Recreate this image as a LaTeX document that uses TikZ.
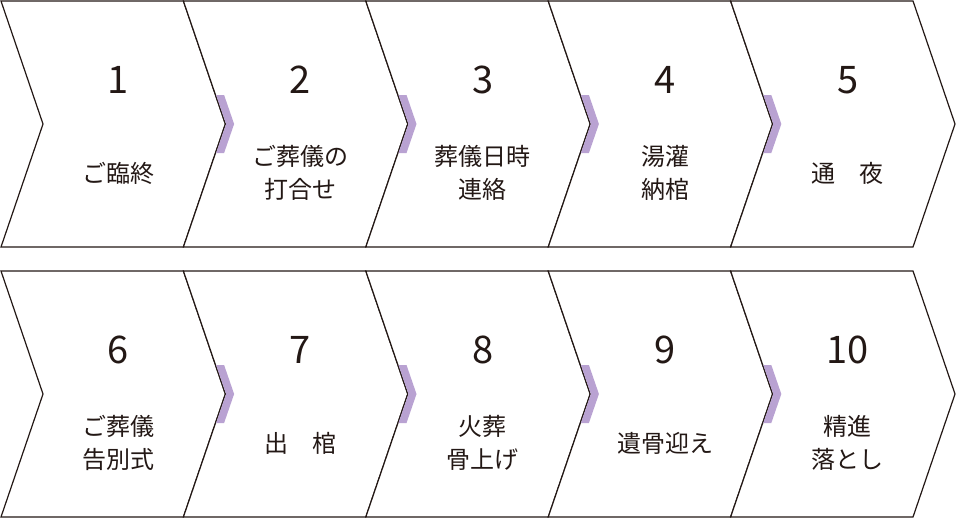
\documentclass[tikz,border=0pt]{standalone}
\usepackage{fontspec}
\setmainfont{Noto Sans CJK JP}
\definecolor{accent}{HTML}{B9A2D2}
\definecolor{ink}{HTML}{231815}
\begin{document}
\begin{tikzpicture}[x=1pt,y=-1pt,
  chevron/.style={draw=ink,line width=1.2pt,fill=white,line join=miter},
  tipmark/.style={fill=accent},
  numlabel/.style={font=\fontsize{38}{38}\selectfont,text=ink},
  steplabel/.style={font=\fontsize{24}{33}\selectfont,text=ink,align=center}]
\useasboundingbox (0,0) rectangle (960,520);
\foreach \row/\top in {0/1,1/271}{
  \foreach \i in {0,...,4}{
    \pgfmathsetmacro{\lx}{1+182.4*\i}
    \draw[chevron] (\lx,\top) -- ++(182.4,0) -- ++(42,123) -- ++(-42,123)
      -- ++(-182.4,0) -- ++(42,-123) -- cycle;
  }
  \foreach \i in {1,...,4}{
    \pgfmathsetmacro{\lx}{1.7+182.4*\i}
    \fill[tipmark] (\lx+32,\top+94) -- (\lx+42,\top+123) -- (\lx+32,\top+152)
      -- (\lx+40,\top+152) -- (\lx+50,\top+123) -- (\lx+40,\top+94) -- cycle;
  }
}
\foreach \n/\txt [count=\k from 0] in {1/ご臨終,2/ご葬儀の\\打合せ,3/葬儀日時\\連絡,4/湯灌\\納棺,5/通　夜,
  6/ご葬儀\\告別式,7/出　棺,8/火葬\\骨上げ,9/遺骨迎え,10/精進\\落とし}{
  \pgfmathtruncatemacro{\col}{mod(\k,5)}
  \pgfmathtruncatemacro{\row}{\k/5}
  \pgfmathsetmacro{\cx}{118+182.4*\col}
  \pgfmathsetmacro{\cy}{270*\row}
  \node[numlabel] (num\n) at (\cx,\cy+80) {\n};
  \node[steplabel] (lab\n) at (\cx,\cy+173) {\txt};
}
\end{tikzpicture}
\end{document}
